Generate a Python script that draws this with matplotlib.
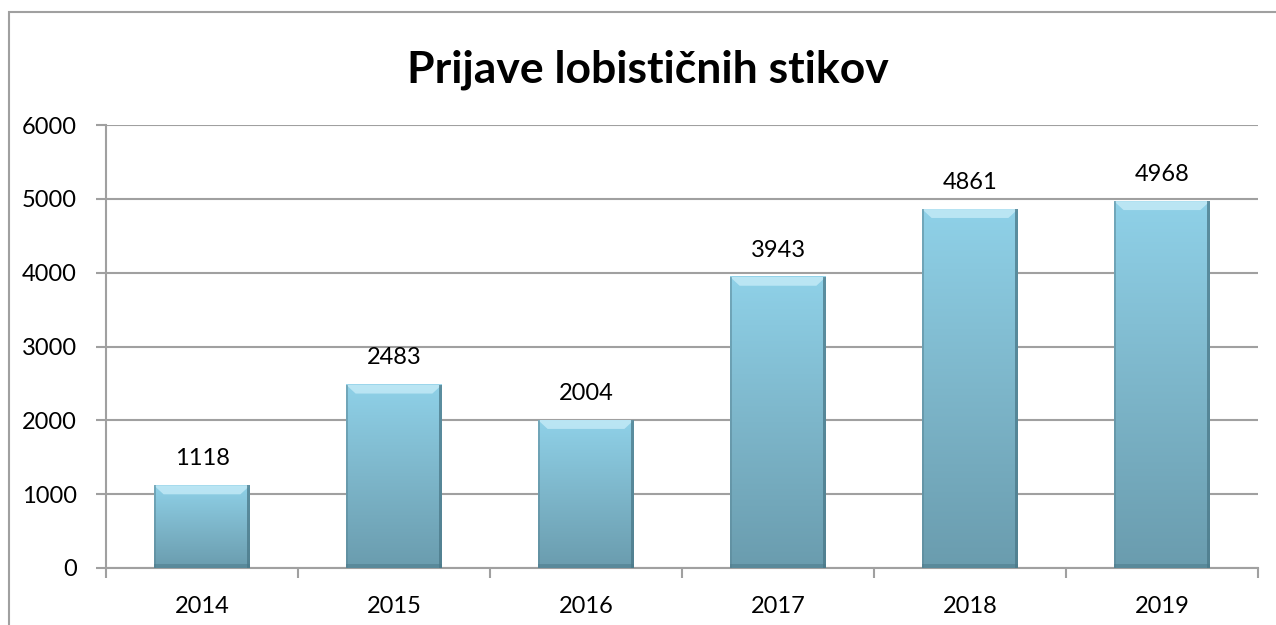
import numpy as np
import matplotlib.pyplot as plt
from matplotlib.colors import LinearSegmentedColormap
from matplotlib.patches import Rectangle, Polygon

years = ['2014', '2015', '2016', '2017', '2018', '2019']
counts = [1118, 2483, 2004, 3943, 4861, 4968]
y_ticks = [0, 1000, 2000, 3000, 4000, 5000, 6000]

title = 'Prijave lobističnih stikov'
font = ['Lato', 'DejaVu Sans']

fig = plt.figure(figsize=(12.76, 6.25), dpi=100)
# outer chart frame
fig.patches.append(Rectangle((9 / 1276, -0.1), 1.2, (625 - 12) / 625 + 0.1,
                             transform=fig.transFigure, fill=False,
                             edgecolor='#a0a0a0', linewidth=1.5, zorder=0))

ax = fig.add_axes([106 / 1276, 1 - 568 / 625, (1258 - 106) / 1276, (568 - 125) / 625])

x = np.arange(len(years))
width = 0.5
cmap = LinearSegmentedColormap.from_list('bar', ['#6a9cae', '#7db6ca', '#8fd1e8'])
grad = np.linspace(0, 1, 256).reshape(-1, 1)

bars = ax.bar(x, counts, width=width, color='none', edgecolor='none', zorder=3)
for rect in bars:
    x0, w, h = rect.get_x(), rect.get_width(), rect.get_height()
    ax.imshow(grad, extent=[x0, x0 + w, 0, h], origin='lower', cmap=cmap,
              aspect='auto', zorder=3)
    # bevel: light top band, darker edges
    bh = 120
    bw = 0.05
    ax.add_patch(Polygon([(x0, h), (x0 + w, h), (x0 + w - bw, h - bh), (x0 + bw, h - bh)],
                         closed=True, facecolor='#c2e9f6', edgecolor='none', alpha=0.85, zorder=4))
    ax.add_patch(Rectangle((x0 + w - 0.014, 0), 0.014, h, facecolor='#4a7888',
                           edgecolor='none', alpha=0.75, zorder=4))
    ax.add_patch(Rectangle((x0, 0), 0.009, h, facecolor='#5a8797',
                           edgecolor='none', alpha=0.55, zorder=4))
    ax.add_patch(Rectangle((x0, 0), w, 60, facecolor='#4a7888',
                           edgecolor='none', alpha=0.5, zorder=4))
    ax.text(rect.get_x() + w / 2, h + 220, f'{h:.0f}', ha='center', va='bottom',
            fontsize=17, family=font, color='black', zorder=5)

ax.set_xlim(-0.5, len(years) - 0.5)
ax.set_ylim(0, 6000)
ax.set_yticks(y_ticks)
ax.set_yticklabels([str(t) for t in y_ticks], family=font, fontsize=17)
ax.set_xticks(x)
ax.set_xticklabels(years, family=font, fontsize=17)
ax.set_xticks(np.arange(-0.5, len(years)), minor=True)
ax.tick_params(axis='x', which='major', length=0, pad=20)
ax.tick_params(axis='x', which='minor', length=7, color='#a0a0a0', width=1.5)
ax.tick_params(axis='y', length=7, color='#a0a0a0', width=1.5, pad=14)

ax.grid(axis='y', color='#a0a0a0', linewidth=1.5, zorder=0)
ax.set_axisbelow(True)
for side in ['top', 'right']:
    ax.spines[side].set_visible(False)
for side in ['left', 'bottom']:
    ax.spines[side].set_color('#a0a0a0')
    ax.spines[side].set_linewidth(1.5)

fig.text(648 / 1276, 1 - 70 / 625, title, ha='center', va='center',
         fontsize=32, fontweight='bold', family=font)

fig.savefig('out.png', dpi=100)
